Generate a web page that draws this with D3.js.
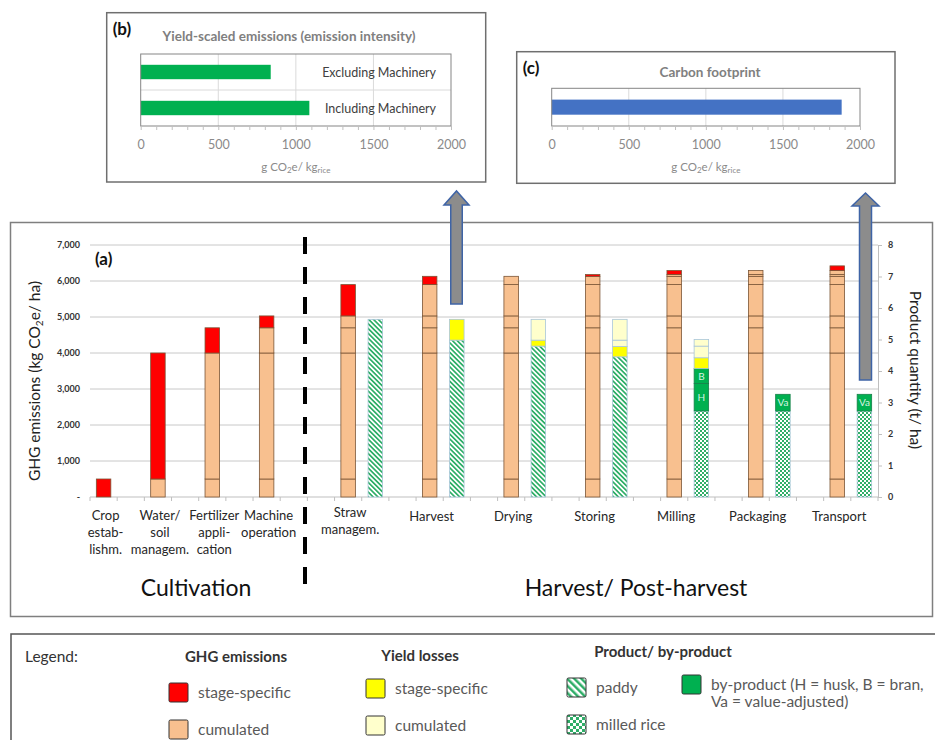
<!DOCTYPE html>
<html>
<head>
<meta charset="utf-8">
<script src="https://cdn.jsdelivr.net/npm/d3@7"></script>
<style>
  body { margin: 0; background: #fff; }
  svg { display: block; font-family: Lato, 'Open Sans', sans-serif; }
</style>
</head>
<body>
<svg></svg>
<script>
// ---- data ----
const cultStages = [['Crop', 'estab-', 'lishm.'], ['Water/', 'soil', 'managem.'], ['Fertilizer', 'appli-', 'cation'], ['Machine', 'operation']];
const postStages = [['Straw', 'managem.'], ['Harvest'], ['Drying'], ['Storing'], ['Milling'], ['Packaging'], ['Transport']];
// stage-specific GHG emissions, kg CO2e/ha (cultivation 4 + post-harvest 7)
const stageEmission = [500, 3500, 700, 330, 870, 230, 0, 50, 110, 0, 130];
// product quantities, t/ha (post-harvest stages)
const paddy = [5.64, 4.98, 4.79, 4.45, 0, 0, 0];
const milledRice = [0, 0, 0, 0, 2.73, 2.73, 2.73];
const byProduct = [[], [], [], [], [['H', 0.87], ['B', 0.48]], [['Va', 0.53]], [['Va', 0.53]]];
const stageLoss = [0, 0.66, 0.19, 0.33, 0.34, 0, 0];
const cumLoss = [[], [], [0.66], [0.20, 0.66], [0.37, 0.21], [], []];
const leftTicks = [0, 1000, 2000, 3000, 4000, 5000, 6000, 7000];
const rightTicks = [0, 1, 2, 3, 4, 5, 6, 7, 8];

const intensityLabels = ['Excluding Machinery', 'Including Machinery'];
const intensityValues = [838, 1087];
const footprintLabels = ['Carbon footprint'];
const footprintValues = [1881];
const hTicks = [0, 500, 1000, 1500, 2000];

// ---- setup ----
const width = 935, height = 740;
const svg = d3.select('svg').attr('width', width).attr('height', height);
const defs = svg.append('defs');

const GREEN = '#00B050', STRIPE = '#2fae68';
function stripes(id, size, w) {
  const p = defs.append('pattern').attr('id', id).attr('patternUnits', 'userSpaceOnUse')
    .attr('width', size).attr('height', size).attr('patternTransform', 'rotate(-45)');
  p.append('rect').attr('width', size).attr('height', size).attr('fill', '#fff');
  p.append('rect').attr('width', w).attr('height', size).attr('fill', STRIPE);
}
function checker(id, s) {
  const p = defs.append('pattern').attr('id', id).attr('patternUnits', 'userSpaceOnUse')
    .attr('width', 2 * s).attr('height', 2 * s);
  p.append('rect').attr('width', 2 * s).attr('height', 2 * s).attr('fill', STRIPE);
  p.append('rect').attr('width', s).attr('height', s).attr('fill', '#fff');
  p.append('rect').attr('x', s).attr('y', s).attr('width', s).attr('height', s).attr('fill', '#fff');
}
stripes('paddy', 3.4, 1.7);
stripes('paddyLeg', 5, 2.5);
checker('milled', 2);
checker('milledLeg', 3);

// ---- panel (a) ----
svg.append('rect').attr('x', 10.5).attr('y', 222.5).attr('width', 922).attr('height', 394)
  .attr('fill', 'none').attr('stroke', '#7f7f7f').attr('stroke-width', 1.5);

const plotL = 90, plotR = 878, plotB = 497, plotT = 245;
const slot = d3.scaleBand().domain(d3.range(29)).range([plotL, plotR]);
const barW = 14.5;
const cx = i => slot(i) + slot.bandwidth() / 2;
const yL = d3.scaleLinear().domain([0, 7000]).range([plotB, plotT]);
const yR = d3.scaleLinear().domain([0, 8]).range([plotB, plotT]);

const a = svg.append('g');
// gridlines
a.append('g').selectAll('line').data(leftTicks.slice(1)).join('line')
  .attr('x1', plotL).attr('x2', plotR).attr('y1', d => yL(d)).attr('y2', d => yL(d))
  .attr('stroke', '#c8c8c8');
a.append('line').attr('x1', plotL).attr('x2', plotR).attr('y1', plotB).attr('y2', plotB)
  .attr('stroke', '#bfbfbf');
a.append('g').selectAll('line').data(d3.range(30)).join('line')
  .attr('x1', d => plotL + d * slot.step()).attr('x2', d => plotL + d * slot.step())
  .attr('y1', plotB).attr('y2', plotB + 4).attr('stroke', '#bfbfbf');

// left axis
const la = a.append('g').attr('transform', `translate(${plotL},0)`)
  .call(d3.axisLeft(yL).tickValues(leftTicks).tickSize(0).tickPadding(10)
    .tickFormat(d => d === 0 ? '-' : d3.format(',')(d)));
la.select('.domain').remove();
la.selectAll('text').attr('font-family', 'Lato, sans-serif').attr('font-size', 9)
  .attr('font-weight', 'bold').attr('fill', '#333');

// right axis
const ra = a.append('g').attr('transform', `translate(${plotR},0)`)
  .call(d3.axisRight(yR).tickValues(rightTicks).tickSize(4).tickPadding(6));
ra.select('.domain').attr('stroke', '#bfbfbf');
ra.selectAll('line').attr('stroke', '#bfbfbf');
ra.selectAll('text').attr('font-family', 'Lato, sans-serif').attr('font-size', 9)
  .attr('font-weight', 'bold').attr('fill', '#333');

// emission stacks
const emSlot = k => k < 4 ? 2 * k : 9 + 3 * (k - 4);
const emSegs = [];
stageEmission.forEach((_, k) => {
  let base = 0;
  for (let m = 0; m <= k; m++) {
    const v = stageEmission[m];
    if (v > 0) emSegs.push({ k, y0: base, y1: base + v, fill: m === k ? '#FF0000' : '#F8C08F' });
    base += v;
  }
});
a.append('g').selectAll('rect').data(emSegs).join('rect')
  .attr('x', d => cx(emSlot(d.k)) - barW / 2).attr('width', barW)
  .attr('y', d => yL(d.y1)).attr('height', d => yL(d.y0) - yL(d.y1))
  .attr('fill', d => d.fill).attr('stroke', '#7a5536').attr('stroke-width', 0.8);

// product stacks
const prSegs = [];
postStages.forEach((_, j) => {
  let base = 0;
  const push = (v, fill, label, stroke) => {
    if (v > 0) prSegs.push({ j, y0: base, y1: base + v, fill, label, stroke });
    base += v;
  };
  push(paddy[j], 'url(#paddy)');
  push(milledRice[j], 'url(#milled)');
  byProduct[j].forEach(([lab, v]) => push(v, GREEN, lab, '#17804a'));
  push(stageLoss[j], '#FFFF00');
  cumLoss[j].forEach(v => push(v, '#FFFFCC'));
});
const prX = j => cx(10 + 3 * j) - barW / 2;
a.append('g').selectAll('rect').data(prSegs).join('rect')
  .attr('x', d => prX(d.j)).attr('width', barW)
  .attr('y', d => yR(d.y1)).attr('height', d => yR(d.y0) - yR(d.y1))
  .attr('fill', d => d.fill).attr('stroke', d => d.stroke || '#a9c6da').attr('stroke-width', 0.8);
a.append('g').selectAll('text').data(prSegs.filter(d => d.label)).join('text')
  .attr('x', d => prX(d.j) + barW / 2).attr('y', d => yR((d.y0 + d.y1) / 2) + 3.5)
  .attr('text-anchor', 'middle').attr('font-size', 10).attr('fill', '#d8f3e2')
  .text(d => d.label);

// category labels
const catLab = a.append('g').attr('font-size', 13).attr('fill', '#262626').attr('text-anchor', 'middle');
cultStages.forEach((lines, k) => {
  const t = catLab.append('text').attr('y', 520);
  lines.forEach((s, i) => t.append('tspan').attr('x', cx(emSlot(k)) + 2).attr('dy', i ? 17 : 0).text(s));
});
postStages.forEach((lines, j) => {
  const t = catLab.append('text').attr('y', lines.length > 1 ? 517 : 521);
  lines.forEach((s, i) => t.append('tspan').attr('x', cx(emSlot(j + 4)) + 2).attr('dy', i ? 17 : 0).text(s));
});

// divider and section titles
a.append('line').attr('x1', 305).attr('x2', 305).attr('y1', 237).attr('y2', 586)
  .attr('stroke', '#000').attr('stroke-width', 4).attr('stroke-dasharray', '17,13');
a.append('text').attr('x', 196).attr('y', 596).attr('text-anchor', 'middle')
  .attr('font-size', 23).attr('fill', '#111').text('Cultivation');
a.append('text').attr('x', 636).attr('y', 596).attr('text-anchor', 'middle')
  .attr('font-size', 23).attr('fill', '#111').text('Harvest/ Post-harvest');
a.append('text').attr('x', 95).attr('y', 265).attr('font-size', 17).attr('font-weight', 'bold')
  .attr('fill', '#111').text('(a)');

// axis titles
const yt = a.append('text').attr('transform', 'translate(40,381) rotate(-90)')
  .attr('text-anchor', 'middle').attr('font-size', 15.5).attr('fill', '#222');
yt.append('tspan').text('GHG emissions (kg CO');
yt.append('tspan').attr('font-size', 10).attr('dy', 3).text('2');
yt.append('tspan').attr('dy', -3).text('e/ ha)');
a.append('text').attr('transform', 'translate(910,370) rotate(90)')
  .attr('text-anchor', 'middle').attr('font-size', 15.5).attr('fill', '#222')
  .text('Product quantity (t/ ha)');

// ---- panels (b) and (c) ----
function hPanel(opt) {
  const g = svg.append('g');
  g.append('rect').attr('x', opt.box[0]).attr('y', opt.box[1])
    .attr('width', opt.box[2] - opt.box[0]).attr('height', opt.box[3] - opt.box[1])
    .attr('fill', '#fff').attr('stroke', '#6f6f6f').attr('stroke-width', 1.5);
  g.append('text').attr('x', opt.box[0] + 6).attr('y', opt.tagY).attr('font-size', 17)
    .attr('font-weight', 'bold').attr('fill', '#111').text(opt.tag);
  g.append('text').attr('x', opt.titleX).attr('y', opt.titleY).attr('text-anchor', 'middle')
    .attr('font-size', 13.5).attr('font-weight', 'bold').attr('fill', '#808080').text(opt.title);

  const x = d3.scaleLinear().domain([0, 2000]).range([opt.x0, opt.x1]);
  const y = d3.scaleBand().domain(opt.labels).range([opt.y0, opt.y1])
    .paddingInner(0.6).paddingOuter(0.3);
  g.append('g').selectAll('line').data(hTicks.slice(1, -1)).join('line')
    .attr('x1', d => x(d)).attr('x2', d => x(d)).attr('y1', opt.y0).attr('y2', opt.y1)
    .attr('stroke', '#dadada');
  g.append('g').selectAll('line').data(opt.labels.slice(1)).join('line')
    .attr('x1', opt.x0).attr('x2', opt.x1)
    .attr('y1', d => y(d) - y.step() * 0.3).attr('y2', d => y(d) - y.step() * 0.3)
    .attr('stroke', '#dadada');
  g.append('g').selectAll('rect').data(opt.values).join('rect')
    .attr('x', x(0)).attr('y', (d, i) => y(opt.labels[i]))
    .attr('width', d => x(d) - x(0)).attr('height', y.bandwidth()).attr('fill', opt.color);
  if (opt.showLabels) {
    g.append('g').selectAll('text').data(opt.labels).join('text')
      .attr('x', opt.x1 - 15).attr('y', d => y(d) + y.bandwidth() / 2 + 4.5)
      .attr('text-anchor', 'end').attr('font-size', 12.5).attr('fill', '#404040').text(d => d);
  }
  g.append('rect').attr('x', opt.x0).attr('y', opt.y0).attr('width', opt.x1 - opt.x0)
    .attr('height', opt.y1 - opt.y0).attr('fill', 'none').attr('stroke', '#858585');
  const minor = g.append('g').attr('transform', `translate(0,${opt.y1})`)
    .call(d3.axisBottom(x).tickValues(d3.range(0, 2001, 100)).tickSize(4).tickFormat(''));
  minor.select('.domain').remove();
  minor.selectAll('line').attr('stroke', '#c0c0c0');
  const lab = g.append('g').attr('transform', `translate(0,${opt.y1})`)
    .call(d3.axisBottom(x).tickValues(hTicks).tickSize(0).tickPadding(14).tickFormat(d3.format('d')));
  lab.select('.domain').remove();
  lab.selectAll('text').attr('font-family', 'Lato, sans-serif').attr('font-size', 12.5).attr('fill', '#8a8a8a');
  const at = g.append('text').attr('x', (opt.x0 + opt.x1) / 2).attr('y', opt.y1 + 45)
    .attr('text-anchor', 'middle').attr('font-size', 11.5).attr('fill', '#8a8a8a');
  at.append('tspan').text('g CO');
  at.append('tspan').attr('font-size', 8).attr('dy', 2).text('2');
  at.append('tspan').attr('dy', -2).text('e/ kg');
  at.append('tspan').attr('font-size', 8).attr('dy', 2).text('rice');
}

hPanel({
  box: [106.7, 12.7, 485.7, 182], tag: '(b)', tagY: 35,
  title: 'Yield-scaled emissions (emission intensity)', titleX: 289, titleY: 41,
  x0: 140.7, x1: 451, y0: 54, y1: 126, labels: intensityLabels, values: intensityValues,
  color: GREEN, showLabels: true
});
hPanel({
  box: [516.7, 51.7, 895, 183.3], tag: '(c)', tagY: 74,
  title: footprintLabels[0], titleX: 710, titleY: 77,
  x0: 551.7, x1: 860, y0: 88.3, y1: 126, labels: footprintLabels, values: footprintValues,
  color: '#4472C4', showLabels: false
});

// ---- arrows ----
function arrow(xm, sw, hw, tip, base, bottom) {
  svg.append('path')
    .attr('d', `M${xm - sw / 2},${bottom} L${xm - sw / 2},${base} L${xm - hw / 2},${base} L${xm},${tip} ` +
      `L${xm + hw / 2},${base} L${xm + sw / 2},${base} L${xm + sw / 2},${bottom} Z`)
    .attr('fill', '#8c8c8c').attr('stroke', '#3f64a6').attr('stroke-width', 1.5);
}
arrow(456.5, 11.5, 25, 191, 205, 304);
arrow(865.5, 12, 27, 193, 206, 380);

// ---- legend ----
const lg = svg.append('g');
lg.append('rect').attr('x', 11).attr('y', 634).attr('width', 940).attr('height', 130)
  .attr('fill', 'none').attr('stroke', '#555').attr('stroke-width', 1.5);
lg.append('text').attr('x', 25).attr('y', 662).attr('font-size', 15.5).attr('fill', '#333').text('Legend:');
const heads = [['GHG emissions', 236, 662], ['Yield losses', 420, 661], ['Product/ by-product', 663, 657]];
lg.selectAll('text.h').data(heads).join('text').attr('class', 'h')
  .attr('x', d => d[1]).attr('y', d => d[2]).attr('text-anchor', 'middle')
  .attr('font-size', 15).attr('font-weight', 'bold').attr('fill', '#333').text(d => d[0]);
const items = [
  { x: 169, y: 683, fill: '#FF0000', text: 'stage-specific' },
  { x: 169, y: 720, fill: '#F8C08F', text: 'cumulated' },
  { x: 366, y: 679, fill: '#FFFF00', text: 'stage-specific' },
  { x: 366, y: 716, fill: '#FFFFCC', text: 'cumulated' },
  { x: 567, y: 678, fill: 'url(#paddyLeg)', text: 'paddy' },
  { x: 567, y: 715, fill: 'url(#milledLeg)', text: 'milled rice' },
  { x: 682, y: 675, fill: GREEN, text: ['by-product (H = husk, B = bran,', 'Va = value-adjusted)'] }
];
items.forEach(d => {
  const s = 19;
  lg.append('rect').attr('x', d.x).attr('y', d.y).attr('width', s).attr('height', s).attr('rx', 1.5)
    .attr('fill', d.fill).attr('stroke', '#333').attr('stroke-width', 1);
  const lines = Array.isArray(d.text) ? d.text : [d.text];
  const t = lg.append('text').attr('y', d.y + 15).attr('font-size', 15.5).attr('fill', '#595959');
  lines.forEach((s2, i) => t.append('tspan').attr('x', d.x + s + 10).attr('dy', i ? 17 : 0).text(s2));
});
</script>
</body>
</html>
